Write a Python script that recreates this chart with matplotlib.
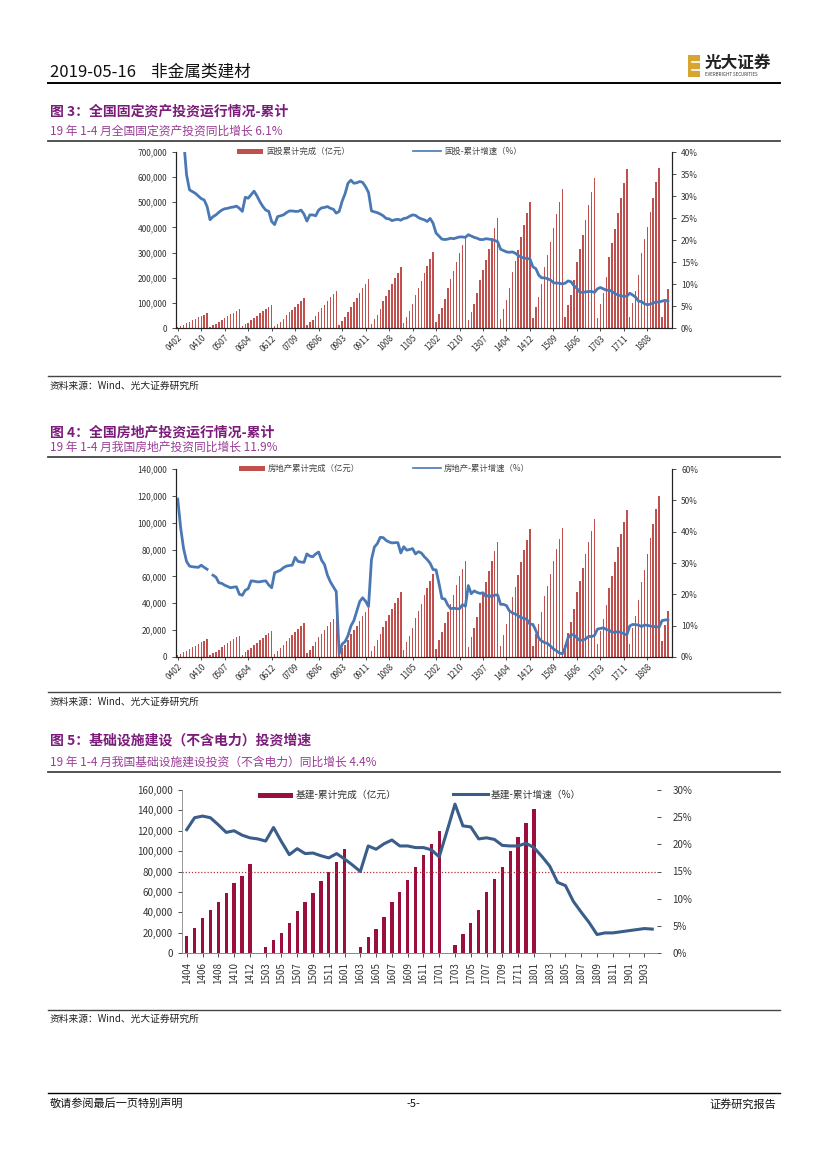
import numpy as np
import matplotlib
matplotlib.use('Agg')
import matplotlib.pyplot as plt
from matplotlib.patches import Rectangle
from matplotlib.lines import Line2D
from matplotlib.ticker import FuncFormatter

plt.rcParams['font.family'] = ['Noto Sans CJK SC', 'DejaVu Sans']

nan = float('nan')

# ---------------- Chart 3 data: FAI cumulative (亿元) & yoy (%) , Feb..Dec each year ----------------
fai_cum = [
    4100, 8800, 12900, 18800, 25800, 31100, 36300, 42200, 48100, 53300, 58600,
    5300, 11300, 16500, 24000, 33000, 39800, 46600, 54100, 61600, 68300, 75100,
    6500, 14000, 20500, 29900, 41100, 49500, 57900, 67200, 76600, 85000, 93400,
    8200, 17600, 25800, 37600, 51700, 62200, 72800, 84500, 96300, 106800, 117400,
    10400, 22200, 32600, 47400, 65200, 78500, 91900, 106700, 121500, 134900, 148200,
    13600, 29100, 42700, 62100, 85400, 102900, 120300, 139800, 159200, 176600, 194100,
    16900, 36200, 53100, 77200, 106200, 127900, 149700, 173800, 197900, 219700, 241400,
    21100, 45300, 66400, 96600, 132800, 160000, 187200, 217400, 247600, 274700, 301900,
    25500, 54700, 80300, 116700, 160500, 193300, 226200, 262700, 299100, 332000, 364800,
    30600, 65500, 96000, 139700, 192100, 231300, 270600, 314300, 357900, 397200, 436500,
    35100, 75300, 110400, 160600, 220900, 266100, 311200, 361400, 411600, 456800, 502000,
    38600, 82700, 121400, 176500, 242700, 292300, 342000, 397200, 452300, 502000, 551600,
    41800, 89500, 131200, 190900, 262500, 316100, 369800, 429500, 489100, 542800, 596500,
    41400, 93800, 139700, 204000, 280600, 337100, 394200, 458500, 517800, 575100, 631700,
    44600, 100800, 147900, 211500, 297300, 353800, 402200, 459400, 517900, 578900, 635600,
    44800, 101900, 155700,
]
fai_yoy = [
    53.0, 47.8, 42.8, 34.8, 31.4, 31.0, 30.6, 30.0, 29.4, 29.1, 27.6,
    24.6, 25.3, 25.7, 26.3, 26.8, 27.1, 27.2, 27.4, 27.5, 27.7, 27.2,
    26.5, 29.7, 29.5, 30.3, 31.1, 30.0, 28.7, 27.6, 26.8, 26.5, 24.2,
    23.5, 25.3, 25.5, 25.7, 26.2, 26.6, 26.6, 26.5, 26.5, 26.8, 25.9,
    24.3, 25.7, 25.7, 25.5, 26.8, 27.3, 27.4, 27.6, 27.2, 27.0, 26.1,
    26.5, 28.8, 30.5, 32.9, 33.6, 32.9, 33.0, 33.3, 33.1, 32.1, 30.8,
    26.6, 26.4, 26.2, 25.9, 25.5, 24.9, 24.8, 24.4, 24.6, 24.7, 24.5,
    24.9, 25.0, 25.4, 25.7, 25.6, 25.1, 24.8, 24.6, 24.2, 24.9, 23.8,
    21.6, 20.9, 20.2, 20.1, 20.2, 20.4, 20.3, 20.5, 20.7, 20.7, 20.6,
    21.2, 20.9, 20.6, 20.4, 20.1, 20.1, 20.3, 20.2, 20.1, 19.9, 19.6,
    17.9, 17.6, 17.3, 17.2, 17.3, 17.0, 16.5, 16.1, 15.9, 15.8, 15.7,
    13.9, 13.5, 12.0, 11.4, 11.4, 11.2, 10.9, 10.3, 10.2, 10.2, 10.0,
    10.2, 10.7, 10.5, 9.6, 9.0, 8.1, 8.1, 8.2, 8.3, 8.3, 8.1,
    8.9, 9.2, 8.9, 8.6, 8.6, 8.3, 7.8, 7.5, 7.3, 7.2, 7.2,
    7.9, 7.5, 7.0, 6.1, 6.0, 5.5, 5.3, 5.4, 5.7, 5.9, 5.9,
    6.1, 6.3, 6.1,
]

# ---------------- Chart 4 data: real estate investment ----------------
re_cum = [
    1120, 2300, 3360, 4610, 6190, 7240, 8490, 9800, 10990, 12040, 13160,
    1350, 2780, 4060, 5570, 7480, 8750, 10260, 11850, 13280, 14560, 15910,
    1650, 3400, 4950, 6800, 9130, 10680, 12530, 14470, 16220, 17770, 19420,
    2150, 4430, 6450, 8850, 11890, 13910, 16310, 18840, 21120, 23140, 25290,
    2650, 5460, 7960, 10920, 14660, 17160, 20120, 23240, 26050, 28550, 31200,
    3080, 6340, 9240, 12680, 17030, 19930, 23370, 26990, 30250, 33150, 36230,
    4100, 8450, 12310, 16890, 22680, 26540, 31130, 35950, 40300, 44160, 48260,
    5250, 10800, 15740, 21610, 29020, 33960, 39820, 46000, 51550, 56490, 61740,
    6100, 12570, 18310, 25130, 33750, 39490, 46310, 53490, 59950, 65700, 71800,
    7310, 15050, 21930, 30100, 40420, 47310, 55480, 64080, 71820, 78700, 86010,
    8080, 16630, 24240, 33260, 44670, 52270, 61300, 70800, 79360, 86960, 95040,
    8160, 16800, 24470, 33590, 45110, 52790, 61910, 71500, 80140, 87820, 95980,
    8720, 17950, 26160, 35900, 48210, 56420, 66160, 76420, 85650, 93860, 102580,
    9330, 19220, 28000, 38430, 51610, 60390, 70820, 81800, 91680, 100470, 109800,
    10040, 21290, 30590, 42350, 55530, 64640, 76520, 88950, 99330, 110080, 120260,
    12090, 23800, 34220,
]
re_yoy = [
    50.4, 41.1, 34.5, 30.5, 29.0, 28.8, 28.7, 28.6, 29.3, 28.6, 28.0,
    nan, 26.1, 25.5, 23.7, 23.5, 22.9, 22.5, 22.1, 22.3, 22.4, 20.0,
    19.7, 21.3, 21.8, 24.3, 24.2, 24.0, 24.0, 24.2, 24.3, 23.0, 22.1,
    26.9, 27.3, 27.7, 28.5, 29.0, 29.2, 29.3, 31.8, 30.5, 30.3, 30.2,
    32.9, 32.2, 32.0, 32.9, 33.5, 30.9, 29.5, 26.1, 24.0, 22.4, 20.9,
    1.0, 4.1, 4.9, 6.8, 9.9, 11.6, 14.7, 17.7, 18.9, 17.8, 16.1,
    31.1, 35.1, 36.2, 38.2, 38.1, 37.2, 36.7, 36.4, 36.5, 36.5, 33.2,
    35.2, 34.1, 34.3, 34.6, 32.9, 33.6, 33.2, 32.0, 31.1, 29.9, 27.9,
    27.8, 23.5, 18.7, 18.5, 16.6, 15.4, 15.6, 15.4, 15.4, 16.7, 16.2,
    22.8, 20.2, 21.1, 20.6, 20.3, 20.5, 19.3, 19.7, 19.2, 19.8, 19.8,
    16.8, 16.8, 16.4, 14.7, 14.1, 13.7, 13.2, 12.5, 12.4, 11.9, 10.5,
    10.4, 8.5, 6.0, 5.1, 4.6, 4.3, 3.5, 2.6, 2.0, 1.3, 1.0,
    3.0, 6.2, 7.2, 7.0, 6.1, 5.3, 5.4, 5.8, 6.6, 6.5, 6.9,
    8.9, 9.1, 9.3, 8.8, 8.5, 7.9, 7.9, 8.1, 7.8, 7.5, 7.0,
    9.9, 10.4, 10.3, 10.2, 9.7, 10.2, 10.1, 9.9, 9.7, 9.7, 9.5,
    11.6, 11.8, 11.9,
]

monthly_ticklabels = ['0402', '0410', '0507', '0604', '0612', '0709', '0806', '0903', '0911', '1008',
                      '1105', '1202', '1210', '1307', '1404', '1412', '1509', '1606', '1703', '1711', '1808']

# ---------------- Chart 5 data: infrastructure ----------------
infra_cats = ['1404', '1405', '1406', '1407', '1408', '1409', '1410', '1411', '1412',
              '1502', '1503', '1504', '1505', '1506', '1507', '1508', '1509', '1510', '1511', '1512',
              '1601', '1602', '1603', '1604', '1605', '1606', '1607', '1608', '1609', '1610', '1611', '1612',
              '1701', '1702', '1703', '1704', '1705', '1706', '1707', '1708', '1709', '1710', '1711', '1712',
              '1801', '1802', '1803', '1804', '1805', '1806', '1807', '1808', '1809', '1810', '1811', '1812',
              '1901', '1902', '1903', '1904']
infra_cum = [17000, 24500, 34300, 41800, 49600, 58800, 68600, 75100, 87200,
             nan, 5900, 12400, 19900, 29400, 41500, 50000, 58800, 70900, 80000, 89500,
             101900, nan, 6200, 15700, 23800, 35600, 49600, 60100, 71200, 84200, 96300, 107100,
             119800, nan, 8200, 18900, 29700, 42400, 59800, 72800, 84900, 100200, 114300, 128000,
             141000, nan, nan, nan, nan, nan, nan, nan, nan, nan, nan, nan,
             nan, nan, nan, nan]
infra_yoy = [22.7, 24.9, 25.2, 24.9, 23.6, 22.2, 22.5, 21.7, 21.2,
             21.0, 20.6, 23.1, 20.5, 18.1, 19.2, 18.3, 18.4, 17.9, 17.5, 18.3,
             17.3, 16.2, 15.0, 19.7, 19.1, 20.1, 20.8, 19.7, 19.7, 19.4, 19.4, 19.0,
             17.7, 22.5, 27.4, 23.4, 23.2, 21.0, 21.2, 20.9, 19.8, 19.7, 19.7, 20.2,
             19.4, 17.8, 16.0, 13.0, 12.4, 9.5, 7.5, 5.6, 3.4, 3.7, 3.7, 3.9,
             4.1, 4.3, 4.5, 4.4]
infra_ref_level = 80000

# ---------------- figure helpers ----------------
W, H = 827, 1169
fig = plt.figure(figsize=(W / 100, H / 100), dpi=100)


def px_axes(x0, y0, x1, y1):
    return fig.add_axes([x0 / W, 1 - y1 / H, (x1 - x0) / W, (y1 - y0) / H])


def ftext(x, y, s, **kw):
    kw.setdefault('va', 'center')
    fig.text(x / W, 1 - y / H, s, **kw)


def hline(y, x0=48, x1=780, lw=1.0, color='black'):
    fig.add_artist(Line2D([x0 / W, x1 / W], [1 - y / H, 1 - y / H], lw=lw, color=color))


def frect(x0, y0, x1, y1, color):
    fig.add_artist(Rectangle((x0 / W, 1 - y1 / H), (x1 - x0) / W, (y1 - y0) / H,
                             transform=fig.transFigure, facecolor=color, edgecolor='none'))


def fline(x0, x1, y, color, lw):
    fig.add_artist(Line2D([x0 / W, x1 / W], [1 - y / H, 1 - y / H], lw=lw, color=color))


TITLE_C = '#7b1c7b'
SUB_C = '#9a3c96'

# ---------------- header / footer ----------------
ftext(50, 72, '2019-05-16    非金属类建材', fontsize=12, color='#111111')
hline(83, lw=1.4)
frect(688, 55, 700, 77, '#d8a531')
fig.add_artist(Line2D([692 / W, 700 / W], [1 - 62 / H, 1 - 62 / H], color='white', lw=1.2))
fig.add_artist(Line2D([692 / W, 700 / W], [1 - 70 / H, 1 - 70 / H], color='white', lw=1.2))
ftext(705, 63, '光大证券', fontsize=12, fontweight='bold', color='#222222')
ftext(705, 75, 'EVERBRIGHT SECURITIES', fontsize=3.2, color='#333333')

hline(1093, lw=1.0)
ftext(50, 1104, '敬请参阅最后一页特别声明', fontsize=8, color='#111111')
ftext(413, 1104, '-5-', fontsize=8, ha='center', color='#111111')
ftext(776, 1104, '证券研究报告', fontsize=8, ha='right', color='#111111')


def section(title_y, title, sub_y, sub, line_y):
    ftext(50, title_y, title, fontsize=10, fontweight='bold', color=TITLE_C)
    ftext(50, sub_y, sub, fontsize=8.5, color=SUB_C)
    hline(line_y, lw=1.3, color='#444444')


def source(line_y, text_y):
    hline(line_y, lw=1.0, color='#444444')
    ftext(50, text_y, '资料来源：Wind、光大证券研究所', fontsize=7, color='#222222')


def monthly_chart(box, cum, yoy, ymax_l, ystep_l, ymax_r, ystep_r, bar_color, line_color):
    ax = px_axes(*box)
    x = np.arange(len(cum))
    ax.bar(x, cum, width=0.5, color=bar_color, linewidth=0)
    ax.set_xlim(-0.6, 168.4)
    ax.set_ylim(0, ymax_l)
    ax.set_yticks(np.arange(0, ymax_l + 1, ystep_l))
    ax.yaxis.set_major_formatter(FuncFormatter(lambda v, p: f'{int(v):,}'))
    ax.set_xticks(np.arange(0, 168, 8))
    ax.set_xticklabels(monthly_ticklabels, rotation=45, ha='right', rotation_mode='anchor')
    ax.tick_params(axis='both', labelsize=6, colors='#333333', length=3, width=0.6)
    ax.tick_params(axis='x', length=2, pad=2)
    ax2 = ax.twinx()
    ax2.plot(x, yoy, color=line_color, lw=2.0, solid_joinstyle='round')
    ax2.set_ylim(0, ymax_r)
    ax2.set_yticks(np.arange(0, ymax_r + 0.1, ystep_r))
    ax2.yaxis.set_major_formatter(FuncFormatter(lambda v, p: f'{int(round(v))}%'))
    ax2.tick_params(axis='y', labelsize=6, colors='#333333', length=3, width=0.6)
    for a in (ax, ax2):
        a.spines['top'].set_visible(False)
        for s in ('left', 'right', 'bottom'):
            a.spines[s].set_linewidth(0.8)
            a.spines[s].set_color('#222222')
    return ax, ax2


# ---------------- Chart 3 ----------------
section(112, '图 3：全国固定资产投资运行情况-累计', 131, '19 年 1-4 月全国固定资产投资同比增长 6.1%', 141)
monthly_chart((176, 152, 672, 328), fai_cum, fai_yoy, 700000, 100000, 40, 5, '#c0504d', '#4a78b5')
frect(237, 148.5, 263, 153.5, '#c0504d')
ftext(266, 151, '固投累计完成（亿元）', fontsize=6, color='#444444')
fline(413, 441, 151, '#4a78b5', 1.2)
ftext(444, 151, '固投-累计增速（%）', fontsize=6, color='#444444')
source(376, 386)

# ---------------- Chart 4 ----------------
section(433, '图 4：全国房地产投资运行情况-累计', 447, '19 年 1-4 月我国房地产投资同比增长 11.9%', 457)
monthly_chart((176, 469, 672, 657), re_cum, re_yoy, 140000, 20000, 60, 10, '#c0504d', '#4a78b5')
frect(239, 465.5, 265, 470.5, '#c0504d')
ftext(268, 468, '房地产累计完成（亿元）', fontsize=6, color='#444444')
fline(413, 441, 468, '#4a78b5', 1.2)
ftext(444, 468, '房地产-累计增速（%）', fontsize=6, color='#444444')
source(692, 702)

# ---------------- Chart 5 ----------------
section(741, '图 5：基础设施建设（不含电力）投资增速', 762, '19 年 1-4 月我国基础设施建设投资（不含电力）同比增长 4.4%', 772)
ax = px_axes(182, 790, 657, 953)
xi = np.arange(len(infra_cats))
ax.bar(xi, infra_cum, width=0.42, color='#9b0f3c', linewidth=0)
ax.axhline(infra_ref_level, color='#b03040', lw=0.9, ls=(0, (1, 1.5)))
ax.set_xlim(-0.6, len(infra_cats) - 0.4)
ax.set_ylim(0, 160000)
ax.set_yticks(np.arange(0, 160001, 20000))
ax.yaxis.set_major_formatter(FuncFormatter(lambda v, p: f'{int(v):,}'))
ax.set_xticks(xi[::2])
ax.set_xticklabels(infra_cats[::2], rotation=90)
ax.tick_params(axis='both', labelsize=7, colors='#333333', length=3, width=0.6)
ax2 = ax.twinx()
ax2.plot(xi, infra_yoy, color='#3a5d8a', lw=2.2, solid_joinstyle='round')
ax2.set_ylim(0, 30)
ax2.set_yticks(np.arange(0, 31, 5))
ax2.yaxis.set_major_formatter(FuncFormatter(lambda v, p: f'{int(v)}%'))
ax2.tick_params(axis='y', labelsize=7, colors='#333333', length=3, width=0.6, pad=8)
for a in (ax, ax2):
    a.spines['top'].set_visible(False)
    a.spines['right'].set_visible(False)
    a.spines['left'].set_color('#888888')
    a.spines['left'].set_linewidth(0.6)
    a.spines['bottom'].set_color('#888888')
    a.spines['bottom'].set_linewidth(0.6)
ax2.spines['left'].set_visible(False)
frect(258, 792.5, 293, 797.5, '#9b0f3c')
ftext(296, 795, '基建-累计完成（亿元）', fontsize=7, color='#333333')
fline(453, 488, 794, '#3a5d8a', 2.2)
ftext(491, 795, '基建-累计增速（%）', fontsize=7, color='#333333')
source(1010, 1019)

fig.savefig('out.png', dpi=100)
